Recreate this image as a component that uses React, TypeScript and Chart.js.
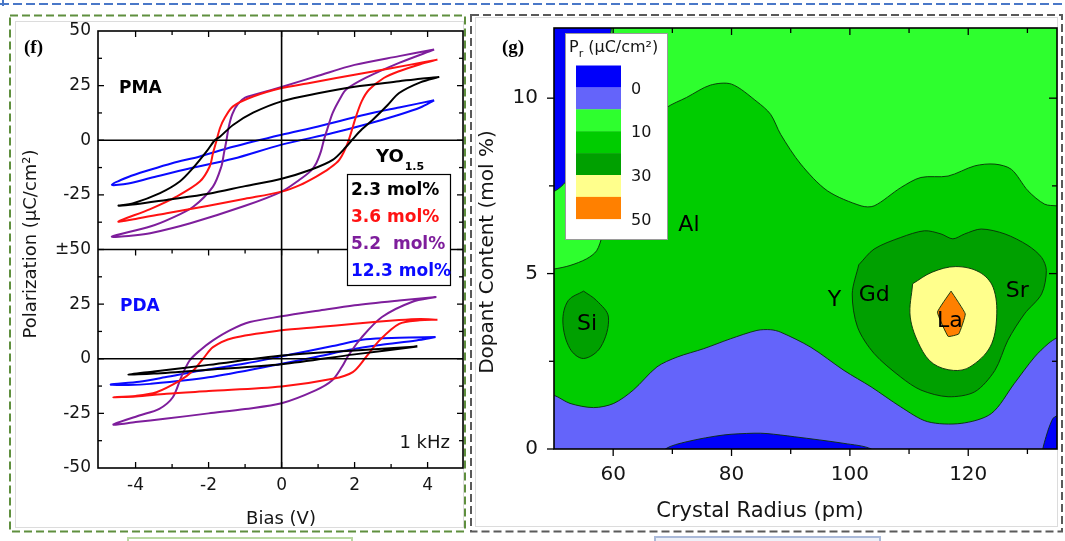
import React, { useEffect, useRef } from "react";
import { Chart, registerables } from "chart.js";

Chart.register(...registerables);

const SANS = "'DejaVu Sans', 'Liberation Sans', sans-serif";
const SERIF = "'Liberation Serif', 'DejaVu Serif', serif";
const INK = "#151515";

// ---------------- Panel (f): polarization–bias hysteresis loops ----------------
// Each loop runs from the positive tip along the descending branch to the
// negative tip, then back along the ascending branch.
const seriesLabels = ["2.3 mol%", "3.6 mol%", "5.2  mol%", "12.3 mol%"];
const seriesColors = ["#000000", "#ff1212", "#7e1e9c", "#0a0aff"];
const biasTicks = [-4, -2, 0, 2, 4];

// PMA
const pma23Bias = [4.32, 3.8, 3.22, 2.0, 1.0, 0, -0.78, -1.33, -1.69, -1.83, -2.05, -2.42, -2.79, -3.33, -4.06, -4.47,
  -4.0, -3.15, -2.0, -1.0, 0, 0.8, 1.4, 1.77, 1.95, 2.2, 2.5, 2.9, 3.22, 3.8, 4.32];
const pma23Pol = [29, 28.2, 27, 24.5, 21.5, 17.8, 12.6, 7, 1.6, 0, -5, -12.6, -18.9, -24.2, -28.8, -29.9,
  -29.3, -27.3, -24.5, -21, -17.6, -13.5, -9, -3, 0.5, 5, 9.4, 16, 21.6, 26.5, 29];

const pma36Bias = [4.27, 3.5, 2.5, 1.5, 0.7, 0, -0.78, -1.33, -1.55, -1.69, -1.78, -1.88, -1.97, -2.24, -2.88, -3.6, -4.47,
  -4.0, -3.15, -2.0, -1.0, 0, 0.5, 0.95, 1.3, 1.58, 1.81, 2.04, 2.2, 2.4, 2.8, 3.22, 3.8, 4.27];
const pma36Pol = [36.9, 34.5, 31.5, 28.5, 26, 23.9, 20, 15.5, 10.5, 5.5, 0, -6, -12, -18.9, -25.8, -31.5, -37.2,
  -36, -33.4, -30, -26.8, -23.5, -20.5, -16.6, -13, -9, -1.3, 10.9, 18, 23.2, 28.5, 31.6, 34.8, 36.9];

const pma52Bias = [4.18, 3.22, 2.0, 1.0, 0, -0.6, -1.0, -1.2, -1.35, -1.45, -1.51, -1.58, -1.65, -1.88, -2.42, -3.0, -3.6, -4.65,
  -4.0, -3.6, -2.5, -1.0, 0, 0.49, 0.8, 0.95, 1.08, 1.16, 1.25, 1.4, 1.6, 1.77, 2.3, 3.22, 4.18];
const pma52Pol = [41.5, 38.5, 34.5, 29.5, 24.4, 21.5, 19.5, 16.5, 12, 6, 0, -6, -12, -21.2, -30.4, -35.5, -39.5, -44.1,
  -43.5, -42.6, -38, -30, -23.5, -18.1, -14, -10.5, -5, 0.2, 5, 12.5, 19, 23.2, 28.5, 35.4, 41.5];

const pma123Bias = [4.18, 3.22, 2.31, 1.0, 0, -1.33, -2.24, -3.0, -3.6, -4.2, -4.65,
  -4.2, -3.6, -2.5, -1.33, 0, 1.4, 2.3, 3.22, 3.8, 4.18];
const pma123Pol = [18.3, 15, 11.8, 6.3, 2.5, -3, -7.4, -10.5, -13.5, -16.8, -20.4,
  -19.8, -17.3, -12.8, -8.5, -2, 3.3, 7.2, 11.7, 15, 18.3];

// PDA
const pda23Bias = [3.72, 2.0, 0, -2.0, -3.5, -4.2, -3.5, -2.0, 0, 2.0, 3.72];
const pda23Pol = [5.6, 3.8, 1.5, -2.8, -5.8, -7.2, -6.8, -5.0, -2.5, 2.0, 5.6];

const pda36Bias = [4.27, 3.8, 3.22, 2.0, 1.0, 0, -1.33, -1.88, -2.15, -2.42, -2.79, -3.43, -4.0, -4.61,
  -4.0, -3.15, -2.0, 0, 1.4, 1.95, 2.31, 2.68, 3.22, 3.78, 4.27];
const pda36Pol = [17.9, 18.2, 17.7, 16, 14.5, 13, 9.5, 5.3, 0, -5.4, -10, -15.3, -17, -17.6,
  -17.3, -16, -14.8, -12.7, -9.2, -6.1, 0.7, 8.4, 16, 17.6, 17.9];

const pda52Bias = [4.24, 3.22, 2.0, 1.0, 0, -0.87, -1.42, -1.88, -2.24, -2.52, -2.75, -2.98, -3.35, -3.9, -4.61,
  -4.0, -3.2, -2.0, -1.0, 0, 0.93, 1.38, 1.65, 1.83, 2.2, 2.75, 3.57, 4.24];
const pda52Pol = [28.3, 26.7, 24.5, 22, 19.4, 16.8, 13, 8.4, 3.8, -0.8, -8.4, -17.6, -22.9, -26, -30.1,
  -29, -27.5, -25, -23, -20.4, -14.5, -10, -3.8, 1.5, 9.9, 19.1, 26, 28.3];

const pda123Bias = [4.22, 3.22, 2.31, 1.4, 0, -1.0, -2.24, -3.2, -3.9, -4.68,
  -4.2, -3.6, -2.0, 0, 1.0, 1.86, 2.7, 3.69, 4.22];
const pda123Pol = [9.9, 9.6, 8.9, 5.8, 1.1, -2.2, -5.5, -8.5, -10.5, -11.8,
  -12, -11.5, -8.5, -2.3, 1.0, 4.1, 6.3, 8.4, 9.9];

// The PDA panel sits below the PMA panel on the same axis, shifted down by 100.
const PDA_SHIFT = -100;

const loops = [
  { bias: pma23Bias, pol: pma23Pol, series: 0, shift: 0 },
  { bias: pma36Bias, pol: pma36Pol, series: 1, shift: 0 },
  { bias: pma52Bias, pol: pma52Pol, series: 2, shift: 0 },
  { bias: pma123Bias, pol: pma123Pol, series: 3, shift: 0 },
  { bias: pda23Bias, pol: pda23Pol, series: 0, shift: PDA_SHIFT },
  { bias: pda36Bias, pol: pda36Pol, series: 1, shift: PDA_SHIFT },
  { bias: pda52Bias, pol: pda52Pol, series: 2, shift: PDA_SHIFT },
  { bias: pda123Bias, pol: pda123Pol, series: 3, shift: PDA_SHIFT },
];

// ---------------- Panel (g): remanent polarization map ----------------
const levelColors = ["#0000fa", "#6464fa", "#2eff2e", "#00cc00", "#00a000", "#ffff8c", "#ff8000"];
const legendTickLabels = ["0", "10", "30", "50"];
const legendTickEdges = [1, 3, 5, 7];
const radiusTicks = [60, 80, 100, 120];
const contentTicks = [0, 5, 10];

// region outlines: crystal radius (pm) / dopant content (mol %)
const bgX = [45, 140, 140, 45, 45];
const bgY = [-1, -1, 13, 13, -1];
const blueTopX = [60.2, 59.7, 58.6, 57.2, 55.3, 53.4, 51.9, 50.2, 48, 48, 60.2];
const blueTopY = [13, 12, 10.8, 9.8, 8.8, 8.0, 7.6, 7.36, 7.3, 13, 13];
const greenX = [48, 50, 52.7, 55.5, 57.2, 58.2, 60, 62.5, 65.5, 69.0, 72.4, 76.4, 80, 84.3, 86.6, 88.3, 91.7, 96.2,
  101.9, 104.1, 108.6, 112, 116.6, 121.1, 124.5, 127.3, 130.1, 132.9, 135, 137, 137, 48, 48];
const greenY = [5.1, 5.13, 5.23, 5.42, 5.65, 6.1, 7.1, 8.3, 9.2, 9.73, 10.02, 10.37, 10.4, 9.9, 9.54, 8.97, 8.12, 7.36,
  6.93, 6.93, 7.45, 7.74, 7.78, 8.07, 8.12, 7.97, 7.36, 6.98, 6.93, 6.9, -1, -1, 5.1];
const lightBlueX = [48, 50, 52.7, 56.7, 60.1, 63.4, 67.4, 70.8, 75.3, 79.8, 84.3, 86.6, 88.3, 93.4, 99, 103.6, 108.6,
  113.1, 118.8, 123.9, 127.8, 131.2, 133.5, 135, 137, 137, 48, 48];
const lightBlueY = [1.55, 1.53, 1.3, 1.18, 1.3, 1.68, 2.34, 2.62, 2.86, 3.14, 3.38, 3.4, 3.33, 2.9, 2.24, 1.77, 1.2,
  0.78, 0.73, 1.01, 1.87, 2.62, 3.0, 3.17, 3.3, -1, -1, 1.55];
const blueLowX = [68, 68.8, 72.5, 78.7, 83.8, 86, 90.6, 99, 103.6, 104.5, 68];
const blueLowY = [-0.3, 0, 0.21, 0.4, 0.45, 0.44, 0.35, 0.16, 0, -0.3, -0.3];
const blueCornerX = [132, 132.6, 133.5, 134.3, 135, 137, 137, 132];
const blueCornerY = [-1, 0, 0.54, 0.87, 0.95, 1.2, -1, -1];
const siX = [55, 57.2, 59.2, 57.9, 55, 52.7, 51.5, 52.4, 55];
const siY = [4.5, 4.23, 3.76, 2.91, 2.58, 2.86, 3.62, 4.23, 4.5];
const lanthanideX = [101.5, 104.1, 108.6, 112.6, 115.4, 117.4, 119.4, 122.2, 126.2, 130.1, 132.4, 133.2, 132.4, 129.5,
  126.7, 124.5, 121.1, 116.6, 112, 108.6, 104.1, 101.3, 100.4, 101.5];
const lanthanideY = [5.25, 5.7, 6.03, 6.22, 6.13, 5.99, 6.13, 6.27, 6.13, 5.8, 5.46, 5.09, 4.42, 3.85,
  3.1, 2.24, 1.63, 1.49, 1.68, 2.05, 2.72, 3.47, 4.42, 5.25];
const yellowX = [110.6, 113.9, 117.9, 121.9, 124.2, 124.8, 123.7, 120.3, 117.5, 114.1, 111.9, 110.2, 110.6];
const yellowY = [4.71, 5.04, 5.2, 5.04, 4.61, 3.76, 2.91, 2.34, 2.24, 2.43, 2.91, 3.76, 4.71];
const orangeX = [117.1, 119.5, 118.4, 116.6, 114.8, 117.1];
const orangeY = [4.5, 3.85, 3.28, 3.21, 3.9, 4.5];

// drawn back to front
const regions = [
  { x: bgX, y: bgY, level: 2, edge: false, tension: 0 },
  { x: blueTopX, y: blueTopY, level: 0, edge: true, tension: 0.3 },
  { x: greenX, y: greenY, level: 3, edge: true, tension: 0.3 },
  { x: lightBlueX, y: lightBlueY, level: 1, edge: true, tension: 0.3 },
  { x: blueLowX, y: blueLowY, level: 0, edge: true, tension: 0.3 },
  { x: blueCornerX, y: blueCornerY, level: 0, edge: true, tension: 0.2 },
  { x: siX, y: siY, level: 4, edge: true, tension: 0.35 },
  { x: lanthanideX, y: lanthanideY, level: 4, edge: true, tension: 0.3 },
  { x: yellowX, y: yellowY, level: 5, edge: true, tension: 0.35 },
  { x: orangeX, y: orangeY, level: 6, edge: true, tension: 0.1 },
];

const dopantNames = ["Al", "Si", "Y", "Gd", "Sr", "La"];
const dopantRadius = [72.8, 55.6, 97.4, 104.1, 128.3, 116.9];
const dopantContent = [6.37, 3.55, 4.24, 4.38, 4.49, 3.64];

// ---------------- helpers ----------------
const toPoints = (xs: number[], ys: number[], dy = 0) => xs.map((x, i) => ({ x, y: ys[i] + dy }));

function seg(ctx: CanvasRenderingContext2D, x1: number, y1: number, x2: number, y2: number) {
  ctx.beginPath();
  ctx.moveTo(x1, y1);
  ctx.lineTo(x2, y2);
  ctx.stroke();
}

function label(ctx: CanvasRenderingContext2D, s: string, x: number, y: number, font: string,
  color = INK, align: CanvasTextAlign = "left") {
  ctx.font = font;
  ctx.fillStyle = color;
  ctx.textAlign = align;
  ctx.textBaseline = "middle";
  ctx.fillText(s, x, y);
}

function rotatedLabel(ctx: CanvasRenderingContext2D, s: string, x: number, y: number, font: string) {
  ctx.save();
  ctx.translate(x, y);
  ctx.rotate(-Math.PI / 2);
  label(ctx, s, 0, 0, font, INK, "center");
  ctx.restore();
}

// frame, inward ticks and annotations of panel (f)
const loopPanelDecor = {
  id: "loopPanelDecor",
  afterDraw(chart: any) {
    const { ctx, chartArea: a, scales } = chart;
    const xs = scales.x;
    const ys = scales.y;
    ctx.save();
    ctx.strokeStyle = "#000";
    ctx.lineWidth = 1.6;
    ctx.strokeRect(a.left, a.top, a.right - a.left, a.bottom - a.top);
    const x0 = xs.getPixelForValue(0);
    seg(ctx, x0, a.top, x0, a.bottom);
    for (const v of [0, -50, PDA_SHIFT]) {
      const py = ys.getPixelForValue(v);
      seg(ctx, a.left, py, a.right, py);
    }
    ctx.lineWidth = 1.3;
    const divider = ys.getPixelForValue(-50);
    for (let v = -4; v <= 4; v++) {
      const px = xs.getPixelForValue(v);
      const len = v % 2 === 0 ? 6 : 4;
      seg(ctx, px, a.top, px, a.top + len);
      seg(ctx, px, a.bottom, px, a.bottom - len);
      seg(ctx, px, divider, px, divider + len);
    }
    for (let v = -137.5; v < 50; v += 12.5) {
      const py = ys.getPixelForValue(v);
      const len = v % 25 === 0 ? 6 : 4;
      seg(ctx, a.left, py, a.left + len, py);
      seg(ctx, a.right, py, a.right - len, py);
    }

    label(ctx, "(f)", 24, 48, `bold 19px ${SERIF}`, "#000");
    label(ctx, "PMA", 119, 89, `bold 17px ${SANS}`, "#000");
    label(ctx, "PDA", 120, 307, `bold 17px ${SANS}`, seriesColors[3]);
    label(ctx, "YO", 376, 157, `bold 18px ${SANS}`, "#000");
    const yoW = ctx.measureText("YO").width;
    label(ctx, "1.5", 377 + yoW, 167, `bold 11px ${SANS}`, "#000");

    ctx.fillStyle = "#fff";
    ctx.fillRect(347, 174, 103, 111);
    ctx.strokeStyle = "#000";
    ctx.lineWidth = 1.2;
    ctx.strokeRect(347.5, 174.5, 103, 111);
    seriesLabels.forEach((s, i) => label(ctx, s, 351, 191 + i * 27, `bold 17px ${SANS}`, seriesColors[i]));

    label(ctx, "1 kHz", 450, 443, `18px ${SANS}`, INK, "right");
    rotatedLabel(ctx, "Polarization (μC/cm²)", 31, 244, `18px ${SANS}`);
    label(ctx, "Bias (V)", 281, 519, `18px ${SANS}`, INK, "center");
    ctx.restore();
  },
};

// frame, ticks, dopant names, colour key and titles of panel (g)
const mapPanelDecor = {
  id: "mapPanelDecor",
  afterDraw(chart: any) {
    const { ctx, chartArea: a, scales } = chart;
    const xs = scales.x;
    const ys = scales.y;
    ctx.save();

    dopantNames.forEach((n, i) =>
      label(ctx, n, xs.getPixelForValue(dopantRadius[i]), ys.getPixelForValue(dopantContent[i]), `22px ${SANS}`, "#000", "center"));

    ctx.strokeStyle = "#000";
    ctx.lineWidth = 1.6;
    ctx.strokeRect(a.left, a.top, a.right - a.left, a.bottom - a.top);
    ctx.lineWidth = 1.3;
    for (let v = 60; v <= 130; v += 10) {
      const px = xs.getPixelForValue(v);
      const major = v % 20 === 0;
      seg(ctx, px, a.bottom, px, a.bottom + (major ? 7 : 5));
      seg(ctx, px, a.top, px, a.top + (major ? 7 : 5));
    }
    for (let v = 0; v <= 10; v += 2.5) {
      const py = ys.getPixelForValue(v);
      const major = v % 5 === 0;
      seg(ctx, a.left, py, a.left - (major ? 7 : 5), py);
      if (v > 0) seg(ctx, a.right, py, a.right - (major ? 8 : 5), py);
    }

    // colour key
    const kx = 95, ky = 33, kw = 102, kh = 206;
    ctx.fillStyle = "#fff";
    ctx.fillRect(kx, ky, kw, kh);
    ctx.strokeStyle = "#9a9a9a";
    ctx.lineWidth = 1;
    ctx.strokeRect(kx + 0.5, ky + 0.5, kw, kh);
    label(ctx, "P", 99, 48, `16px ${SANS}`, INK);
    const pW = ctx.measureText("P").width;
    label(ctx, "r", 99 + pW, 54, `11px ${SANS}`, INK);
    const rW = ctx.measureText("r").width;
    label(ctx, " (μC/cm²)", 99 + pW + rW, 48, `16px ${SANS}`, INK);
    const sx = 106, sw = 45, s0 = 65.5, sh = 21.9;
    levelColors.forEach((c, i) => {
      ctx.fillStyle = c;
      ctx.fillRect(sx, s0 + i * sh, sw, sh + 0.3);
    });
    legendTickLabels.forEach((t, i) => label(ctx, t, 161, s0 + legendTickEdges[i] * sh + 2, `16px ${SANS}`, INK));

    label(ctx, "(g)", 32, 48, `bold 19px ${SERIF}`, "#000");
    rotatedLabel(ctx, "Dopant Content (mol %)", 18, 252, `20px ${SANS}`);
    label(ctx, "Crystal Radius (pm)", 290, 512, `21px ${SANS}`, INK, "center");
    ctx.restore();
  },
};

function loopConfig(): any {
  return {
    type: "scatter",
    data: {
      datasets: loops.map((l) => ({
        data: toPoints(l.bias, l.pol, l.shift),
        showLine: true,
        borderColor: seriesColors[l.series],
        borderWidth: 2,
        pointRadius: 0,
        tension: 0.3,
        fill: false,
      })),
    },
    options: {
      responsive: false,
      animation: false,
      events: [],
      layout: { padding: { top: 31, right: 7, left: 0, bottom: 0 } },
      plugins: { legend: { display: false }, tooltip: { enabled: false } },
      elements: { line: { capBezierPoints: false } },
      scales: {
        x: {
          type: "linear",
          min: -5.03,
          max: 4.97,
          grid: { display: false, drawTicks: false },
          border: { display: false },
          afterBuildTicks: (s: any) => { s.ticks = biasTicks.map((v) => ({ value: v })); },
          afterFit: (s: any) => { s.height = 73; },
          ticks: { padding: 7, color: INK, font: { family: SANS, size: 17 }, autoSkip: false, maxRotation: 0,
            callback: (v: any) => String(v) },
        },
        y: {
          type: "linear",
          min: -150,
          max: 50,
          grid: { display: false, drawTicks: false },
          border: { display: false },
          afterBuildTicks: (s: any) => {
            const t = [];
            for (let v = 50; v >= -150; v -= 25) t.push({ value: v });
            s.ticks = t;
          },
          afterFit: (s: any) => { s.width = 98; },
          ticks: {
            padding: 7, color: INK, font: { family: SANS, size: 17 }, autoSkip: false,
            callback: (v: any) => {
              const n = Number(v);
              if (n === -50) return "±50";
              return String(n < -50 ? n - PDA_SHIFT : n);
            },
          },
        },
      },
    },
    plugins: [loopPanelDecor],
  };
}

function mapConfig(): any {
  return {
    type: "scatter",
    data: {
      datasets: regions.map((r, i) => ({
        data: toPoints(r.x, r.y),
        showLine: true,
        fill: "shape",
        backgroundColor: levelColors[r.level],
        borderColor: r.edge ? "rgba(10,45,10,0.9)" : "rgba(0,0,0,0)",
        borderWidth: r.edge ? 1 : 0,
        pointRadius: 0,
        tension: r.tension,
        order: regions.length - i,
      })),
    },
    options: {
      responsive: false,
      animation: false,
      events: [],
      layout: { padding: { top: 27, right: 8, left: 0, bottom: 0 } },
      plugins: { legend: { display: false }, tooltip: { enabled: false } },
      elements: { line: { capBezierPoints: false } },
      scales: {
        x: {
          type: "linear",
          min: 50,
          max: 135,
          grid: { display: false, drawTicks: false },
          border: { display: false },
          afterBuildTicks: (s: any) => { s.ticks = radiusTicks.map((v) => ({ value: v })); },
          afterFit: (s: any) => { s.height = 92; },
          ticks: { padding: 14, color: INK, font: { family: SANS, size: 20 }, autoSkip: false, maxRotation: 0,
            callback: (v: any) => String(v) },
        },
        y: {
          type: "linear",
          min: 0,
          max: 12,
          grid: { display: false, drawTicks: false },
          border: { display: false },
          afterBuildTicks: (s: any) => { s.ticks = contentTicks.map((v) => ({ value: v })); },
          afterFit: (s: any) => { s.width = 84; },
          ticks: { padding: 16, color: INK, font: { family: SANS, size: 20 }, autoSkip: false,
            callback: (v: any) => String(v) },
        },
      },
    },
    plugins: [mapPanelDecor],
  };
}

export default function App() {
  const loopRef = useRef<HTMLCanvasElement>(null);
  const mapRef = useRef<HTMLCanvasElement>(null);

  useEffect(() => {
    const loopChart = new Chart(loopRef.current as HTMLCanvasElement, loopConfig());
    const mapChart = new Chart(mapRef.current as HTMLCanvasElement, mapConfig());
    return () => {
      loopChart.destroy();
      mapChart.destroy();
    };
  }, []);

  return (
    <div style={{ position: "fixed", left: 0, top: 0, width: 1065, height: 541, background: "#fff", overflow: "hidden" }}>
      <svg width={1065} height={541} style={{ position: "absolute", left: 0, top: 0 }}>
        <line x1={0} y1={4} x2={1065} y2={4} stroke="#4a78c8" strokeWidth={2} strokeDasharray="9 4" />
        <line x1={3} y1={0} x2={3} y2={6} stroke="#4a78c8" strokeWidth={2} />
        <rect x={10} y={15.5} width={455} height={516} fill="none" stroke="#5f8f3e" strokeWidth={2} strokeDasharray="8 4" />
        <rect x={15.5} y={21.5} width={448} height={506} fill="none" stroke="#dcdcdc" strokeWidth={1} />
        <rect x={471} y={15} width={591} height={516.5} fill="none" stroke="#5a5a5a" strokeWidth={2} strokeDasharray="8 4" />
        <rect x={475.5} y={17.5} width={582} height={509} fill="none" stroke="#dcdcdc" strokeWidth={1} />
        <rect x={128} y={538} width={224} height={12} fill="#fff" stroke="#b9d8a2" strokeWidth={2} />
        <rect x={655} y={537} width={225} height={12} fill="#eef1f8" stroke="#a9b9d9" strokeWidth={2} />
      </svg>
      <canvas ref={loopRef} width={470} height={541} style={{ position: "absolute", left: 0, top: 0 }} />
      <canvas ref={mapRef} width={595} height={541} style={{ position: "absolute", left: 470, top: 0 }} />
    </div>
  );
}
